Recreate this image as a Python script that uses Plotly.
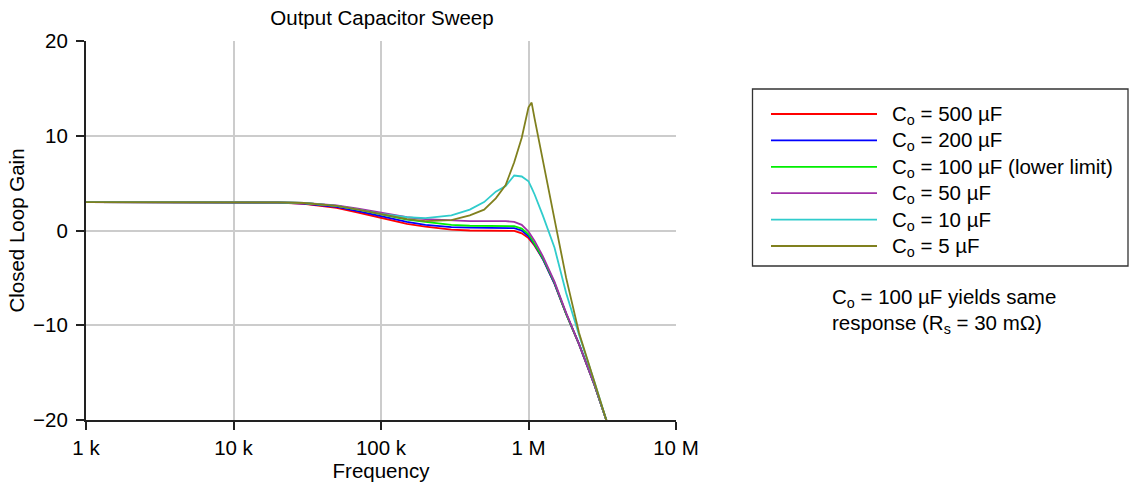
import plotly.graph_objects as go

# ---------------- data ----------------
freq = [1e3, 1e4, 2e4, 3e4, 5e4, 7e4, 1e5, 1.5e5, 2e5, 3e5, 4e5, 5e5, 6e5, 7e5,
        8e5, 9e5, 1e6, 1.05e6, 1.1e6, 1.25e6, 1.5e6, 1.8e6, 2.2e6, 2.8e6, 3.4e6]

gain_500u = [3.0, 3.0, 2.95, 2.8, 2.4, 1.9, 1.3, 0.7, 0.4, 0.1, 0.0, 0.0, 0.0, 0.0,
             -0.05, -0.3, -0.8, -1.2, -1.6, -3.0, -5.6, -8.8, -12.0, -16.3, -20.2]
gain_200u = [3.0, 3.0, 2.95, 2.85, 2.5, 2.05, 1.5, 0.9, 0.6, 0.35, 0.3, 0.3, 0.3, 0.3,
             0.25, 0.0, -0.6, -1.05, -1.5, -3.0, -5.6, -8.8, -12.0, -16.3, -20.2]
gain_100u = [3.0, 3.0, 2.97, 2.9, 2.6, 2.2, 1.7, 1.15, 0.9, 0.6, 0.5, 0.5, 0.5, 0.5,
             0.45, 0.2, -0.4, -0.9, -1.4, -2.9, -5.5, -8.8, -12.0, -16.3, -20.2]
gain_50u = [3.0, 3.0, 2.98, 2.9, 2.65, 2.3, 1.85, 1.4, 1.2, 1.05, 1.0, 1.0, 1.0, 1.0,
            0.9, 0.6, -0.1, -0.6, -1.1, -2.7, -5.4, -8.7, -12.0, -16.3, -20.2]
gain_10u = [3.0, 3.0, 2.97, 2.9, 2.6, 2.2, 1.75, 1.4, 1.3, 1.6, 2.2, 3.0, 4.1, 4.7,
            5.8, 5.7, 5.2, 4.5, 3.8, 1.6, -1.8, -6.6, -11.0, -16.0, -20.2]
gain_5u = [3.0, 3.0, 2.97, 2.9, 2.6, 2.2, 1.7, 1.2, 1.0, 1.1, 1.6, 2.2, 3.4, 4.8,
           7.2, 9.8, 13.0, 13.5, 11.8, 7.3, 1.2, -5.0, -10.8, -16.0, -20.2]

series_names = ["C<sub>o</sub> = 500 \u00b5F", "C<sub>o</sub> = 200 \u00b5F",
                "C<sub>o</sub> = 100 \u00b5F (lower limit)", "C<sub>o</sub> = 50 \u00b5F",
                "C<sub>o</sub> = 10 \u00b5F", "C<sub>o</sub> = 5 \u00b5F"]
series_values = [gain_500u, gain_200u, gain_100u, gain_50u, gain_10u, gain_5u]
series_colors = ["#ff0000", "#0000ff", "#00ee00", "#a030a8", "#30cccc", "#80801e"]

x_tick_vals = [1e3, 1e4, 1e5, 1e6, 1e7]
x_tick_text = ["1 k", "10 k", "100 k", "1 M", "10 M"]
y_tick_vals = [-20, -10, 0, 10, 20]
y_tick_text = ["\u221220", "\u221210", "0", "10", "20"]

# ---------------- layout helpers ----------------
W, H = 1133, 488
L, R, T, B = 86, 676, 41, 420
FS = 20.5


def px(x):
    return (x - L) / (R - L)


def py(y):
    return (B - y) / (B - T)


FONT = "Liberation Sans, Arial, sans-serif"

fig = go.Figure()
for name, vals, col in zip(series_names, series_values, series_colors):
    fig.add_trace(go.Scatter(x=freq, y=vals, mode="lines", name=name,
                             line=dict(color=col, width=1.8), showlegend=False))

shapes = []
annotations = []
# custom legend box
shapes.append(dict(type="rect", xref="paper", yref="paper",
                   x0=px(752.5), x1=px(1128), y0=py(266), y1=py(89),
                   line=dict(color="#333333", width=1.3), fillcolor="white"))
for i, (name, col) in enumerate(zip(series_names, series_colors)):
    yy = 114 + 26.4 * i
    shapes.append(dict(type="line", xref="paper", yref="paper",
                       x0=px(771), x1=px(877), y0=py(yy), y1=py(yy),
                       line=dict(color=col, width=1.8)))
    annotations.append(dict(xref="paper", yref="paper", x=px(890), y=py(yy + 1),
                            text=name, showarrow=False, xanchor="left",
                            yanchor="middle", font=dict(size=FS, color="black")))

annotations.append(dict(xref="paper", yref="paper", x=px(830), y=py(298),
                        text="C<sub>o</sub> = 100 \u00b5F yields same", showarrow=False,
                        xanchor="left", yanchor="middle", font=dict(size=FS, color="black")))
annotations.append(dict(xref="paper", yref="paper", x=px(830), y=py(324),
                        text="response (R<sub>s</sub> = 30 m\u03a9)", showarrow=False,
                        xanchor="left", yanchor="middle", font=dict(size=FS, color="black")))

fig.update_layout(
    width=W, height=H,
    margin=dict(l=L, r=W - R, t=T, b=H - B, pad=0),
    paper_bgcolor="white", plot_bgcolor="white",
    font=dict(family=FONT, size=FS, color="black"),
    title=dict(text="Output Capacitor Sweep", xref="paper", x=px(382), xanchor="center",
               yref="container", y=1 - 18 / H, yanchor="middle",
               font=dict(size=FS, color="black")),
    shapes=shapes, annotations=annotations,
    showlegend=False,
)
fig.update_xaxes(type="log", range=[3, 7], tickvals=x_tick_vals, ticktext=x_tick_text,
                 showgrid=True, gridcolor="#cccccc", gridwidth=2,
                 showline=True, linecolor="#222222", linewidth=2,
                 ticks="outside", ticklen=8, tickcolor="#222222", tickwidth=2,
                 title=dict(text="Frequency", standoff=4, font=dict(size=FS)),
                 zeroline=False)
fig.update_yaxes(range=[-20, 20], tickvals=y_tick_vals, ticktext=y_tick_text,
                 showgrid=True, gridcolor="#cccccc", gridwidth=2,
                 showline=True, linecolor="#222222", linewidth=2,
                 ticks="outside", ticklen=8, tickcolor="#222222", tickwidth=2,
                 ticklabelstandoff=4,
                 title=dict(text="Closed Loop Gain", standoff=3, font=dict(size=FS)),
                 zeroline=False)

fig.write_html("out.html")
